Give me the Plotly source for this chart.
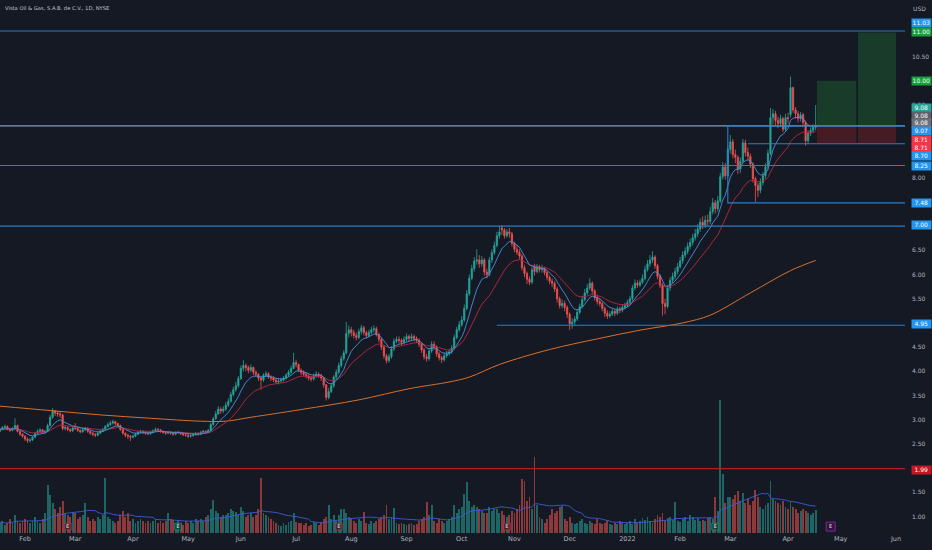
import pandas as pd
import plotly.graph_objects as go

# ---------------- data ----------------
first_day = "2021-01-18"

opens = [
2.76,2.80,2.84,2.86,2.80,2.78,2.82,2.88,2.76,2.70,
2.66,2.60,2.57,2.58,2.64,2.72,2.76,2.79,2.74,2.76,
2.88,3.05,3.18,3.14,3.12,3.10,2.82,2.84,2.80,2.77,
2.83,2.82,2.78,2.75,2.79,2.82,2.76,2.72,2.70,2.68,
2.72,2.76,2.80,2.86,2.90,2.93,2.96,2.92,2.88,2.80,
2.72,2.68,2.66,2.64,2.66,2.70,2.74,2.76,2.74,2.72,
2.71,2.74,2.77,2.80,2.79,2.76,2.74,2.72,2.74,2.72,
2.70,2.73,2.74,2.71,2.69,2.68,2.66,2.67,2.69,2.72,
2.70,2.74,2.76,2.74,2.78,2.90,3.02,3.12,3.22,3.18,
3.22,3.30,3.38,3.52,3.62,3.70,3.85,4.06,4.12,4.08,
4.02,4.08,3.98,3.94,3.86,3.82,3.92,3.95,3.88,3.86,
3.82,3.78,3.80,3.82,3.86,3.92,3.98,4.06,4.18,4.14,
4.02,3.98,3.94,3.90,3.86,3.84,3.90,3.94,3.92,3.86,
3.72,3.46,3.58,3.70,3.88,3.98,4.12,4.26,4.38,4.78,
4.86,4.80,4.74,4.70,4.82,4.90,4.80,4.74,4.80,4.86,
4.88,4.76,4.66,4.50,4.32,4.22,4.30,4.46,4.62,4.66,
4.64,4.60,4.66,4.72,4.68,4.72,4.68,4.64,4.56,4.44,
4.30,4.26,4.42,4.56,4.50,4.36,4.28,4.24,4.32,4.36,
4.40,4.48,4.70,4.86,4.96,5.06,5.30,5.60,5.92,6.12,
6.28,6.30,6.22,6.30,6.05,6.00,6.30,6.45,6.60,6.80,
6.96,6.92,6.80,6.88,6.84,6.64,6.52,6.46,6.38,6.14,
6.02,5.90,5.84,6.16,6.06,6.14,6.10,6.12,6.04,5.94,
5.86,5.82,5.70,5.50,5.36,5.40,5.32,5.18,4.98,5.02,
5.08,5.22,5.34,5.48,5.62,5.72,5.82,5.66,5.52,5.44,
5.40,5.30,5.20,5.14,5.18,5.24,5.20,5.28,5.26,5.32,
5.36,5.42,5.50,5.72,5.82,5.78,5.84,5.92,6.10,6.22,
6.30,6.36,6.18,5.96,5.78,5.40,5.34,5.72,5.88,5.96,
6.06,6.16,6.28,6.40,6.48,6.58,6.66,6.76,6.84,6.94,
7.08,7.02,7.12,7.10,7.30,7.48,7.36,7.52,8.02,8.22,
8.04,8.58,8.74,8.48,8.42,8.18,8.34,8.72,8.52,8.44,
8.28,7.98,7.84,7.74,7.90,8.04,8.22,8.50,9.24,9.32,
9.18,9.12,9.22,9.00,9.24,9.30,9.86,9.40,9.32,9.22,
9.30,9.14,8.76,8.92,8.98,9.04]

highs = [
2.83,2.87,2.90,2.88,2.83,2.85,3.03,2.90,2.78,2.72,
2.68,2.63,2.62,2.66,2.74,2.80,2.83,2.81,2.79,2.92,
3.10,3.24,3.20,3.18,3.16,3.12,2.88,2.86,2.82,2.86,
2.93,2.84,2.80,2.82,2.85,2.84,2.78,2.75,2.72,2.75,
2.79,2.83,2.89,2.94,2.98,3.00,2.98,2.94,2.90,2.82,
2.74,2.71,2.68,2.69,2.73,2.77,2.79,2.78,2.76,2.75,
2.77,2.80,2.84,2.83,2.81,2.78,2.76,2.77,2.76,2.74,
2.76,2.77,2.75,2.73,2.71,2.70,2.70,2.72,2.75,2.74,
2.77,2.79,2.78,2.81,2.94,3.06,3.18,3.28,3.26,3.28,
3.36,3.44,3.58,3.68,3.78,3.90,4.12,4.23,4.16,4.12,
4.14,4.10,4.02,3.96,3.90,3.96,4.00,3.98,3.92,3.90,
3.86,3.84,3.87,3.90,3.96,4.03,4.12,4.38,4.24,4.16,
4.06,4.02,3.98,3.94,3.90,3.95,4.00,3.98,3.95,3.88,
3.74,3.66,3.76,3.92,4.04,4.18,4.32,4.44,5.02,4.95,
4.92,4.86,4.80,4.88,4.96,4.94,4.84,4.86,4.92,4.95,
4.92,4.80,4.70,4.54,4.36,4.36,4.52,4.68,4.72,4.72,
4.68,4.72,4.78,4.76,4.78,4.76,4.72,4.68,4.60,4.48,
4.36,4.48,4.62,4.62,4.54,4.40,4.32,4.38,4.42,4.46,
4.54,4.76,4.92,5.04,5.14,5.38,5.68,6.00,6.20,6.36,
6.52,6.40,6.38,6.34,6.12,6.36,6.52,6.68,6.88,7.00,
7.02,6.96,6.94,6.96,6.88,6.68,6.60,6.52,6.42,6.20,
6.06,5.96,6.16,6.22,6.22,6.20,6.20,6.16,6.08,5.98,
5.92,5.86,5.74,5.54,5.48,5.46,5.36,5.22,5.10,5.14,
5.28,5.40,5.56,5.70,5.80,5.92,5.86,5.70,5.58,5.50,
5.44,5.34,5.26,5.24,5.30,5.28,5.34,5.34,5.38,5.42,
5.48,5.56,5.78,5.90,5.88,5.90,6.00,6.18,6.30,6.40,
6.48,6.40,6.22,6.00,5.82,5.50,5.78,5.94,6.04,6.14,
6.24,6.36,6.48,6.56,6.66,6.74,6.84,6.94,7.04,7.16,
7.20,7.22,7.24,7.40,7.58,7.54,7.62,8.10,8.32,8.30,
8.66,8.88,8.80,8.58,8.46,8.42,8.80,8.78,8.62,8.50,
8.32,8.02,7.90,7.98,8.12,8.30,8.58,9.44,9.42,9.38,
9.26,9.30,9.26,9.32,9.34,10.09,9.88,9.46,9.38,9.36,
9.34,9.18,8.98,9.04,9.10,9.50]

lows = [
2.74,2.78,2.81,2.78,2.75,2.76,2.80,2.74,2.67,2.63,
2.56,2.52,2.53,2.56,2.62,2.70,2.73,2.71,2.71,2.75,
2.86,3.02,3.08,3.06,3.04,2.78,2.78,2.76,2.74,2.75,
2.79,2.75,2.72,2.73,2.77,2.73,2.69,2.66,2.64,2.66,
2.70,2.74,2.78,2.84,2.87,2.90,2.88,2.85,2.77,2.69,
2.64,2.60,2.56,2.61,2.64,2.68,2.72,2.71,2.69,2.68,
2.69,2.72,2.75,2.76,2.73,2.71,2.69,2.70,2.69,2.67,
2.68,2.71,2.68,2.66,2.65,2.62,2.63,2.65,2.67,2.67,
2.68,2.72,2.71,2.72,2.76,2.88,3.00,3.10,3.12,3.14,
3.18,3.26,3.35,3.48,3.58,3.66,3.82,4.00,4.00,3.96,
3.98,3.92,3.88,3.80,3.62,3.78,3.88,3.84,3.80,3.78,
3.74,3.73,3.76,3.79,3.83,3.89,3.95,4.04,4.08,3.98,
3.92,3.90,3.85,3.81,3.79,3.81,3.87,3.86,3.80,3.66,
3.40,3.42,3.55,3.66,3.84,3.94,4.08,4.22,4.35,4.70,
4.72,4.68,4.64,4.66,4.76,4.74,4.68,4.70,4.76,4.80,
4.72,4.60,4.44,4.26,4.16,4.18,4.26,4.42,4.58,4.58,
4.54,4.56,4.62,4.62,4.64,4.62,4.58,4.50,4.38,4.24,
4.20,4.22,4.38,4.44,4.30,4.22,4.17,4.20,4.28,4.32,
4.36,4.45,4.66,4.82,4.92,5.02,5.26,5.56,5.88,6.06,
6.20,6.14,6.16,5.98,5.92,5.96,6.24,6.40,6.56,6.74,
6.82,6.74,6.76,6.76,6.58,6.46,6.40,6.32,6.08,5.94,
5.80,5.78,5.80,5.98,6.02,6.04,6.04,5.98,5.88,5.80,
5.74,5.64,5.42,5.30,5.30,5.24,5.10,4.85,4.88,4.94,
5.04,5.18,5.30,5.44,5.58,5.68,5.60,5.46,5.38,5.34,
5.24,5.12,5.08,5.10,5.14,5.14,5.16,5.20,5.22,5.28,
5.32,5.38,5.46,5.68,5.72,5.74,5.80,5.88,6.06,6.16,
6.24,6.12,5.90,5.72,5.15,5.18,5.30,5.66,5.82,5.90,
6.00,6.12,6.22,6.34,6.42,6.52,6.60,6.70,6.78,6.88,
6.94,6.96,7.00,7.04,7.24,7.26,7.30,7.48,7.96,7.96,
8.00,8.50,8.40,8.30,8.08,8.10,8.30,8.44,8.36,8.20,
7.90,7.50,7.60,7.68,7.84,7.98,8.16,8.46,9.10,9.08,
9.02,9.06,8.94,8.96,9.12,9.24,9.34,9.22,9.14,9.16,
9.08,8.66,8.70,8.86,8.92,8.98]

closes = [
2.80,2.84,2.86,2.80,2.78,2.82,2.88,2.76,2.70,2.66,
2.60,2.57,2.58,2.64,2.72,2.76,2.79,2.74,2.76,2.88,
3.05,3.18,3.14,3.12,3.10,2.82,2.84,2.80,2.77,2.83,
2.82,2.78,2.75,2.79,2.82,2.76,2.72,2.70,2.68,2.72,
2.76,2.80,2.86,2.90,2.93,2.96,2.92,2.88,2.80,2.72,
2.68,2.66,2.64,2.66,2.70,2.74,2.76,2.74,2.72,2.71,
2.74,2.77,2.80,2.79,2.76,2.74,2.72,2.74,2.72,2.70,
2.73,2.74,2.71,2.69,2.68,2.66,2.67,2.69,2.72,2.70,
2.74,2.76,2.74,2.78,2.90,3.02,3.12,3.22,3.18,3.22,
3.30,3.38,3.52,3.62,3.70,3.85,4.06,4.12,4.08,4.02,
4.08,3.98,3.94,3.86,3.82,3.92,3.95,3.88,3.86,3.82,
3.78,3.80,3.82,3.86,3.92,3.98,4.06,4.18,4.14,4.02,
3.98,3.94,3.90,3.86,3.84,3.90,3.94,3.92,3.86,3.72,
3.46,3.58,3.70,3.88,3.98,4.12,4.26,4.38,4.78,4.86,
4.80,4.74,4.70,4.82,4.90,4.80,4.74,4.80,4.86,4.88,
4.76,4.66,4.50,4.32,4.22,4.30,4.46,4.62,4.66,4.64,
4.60,4.66,4.72,4.68,4.72,4.68,4.64,4.56,4.44,4.30,
4.26,4.42,4.56,4.50,4.36,4.28,4.24,4.32,4.36,4.40,
4.48,4.70,4.86,4.96,5.06,5.30,5.60,5.92,6.12,6.28,
6.30,6.22,6.30,6.05,6.00,6.30,6.45,6.60,6.80,6.88,
6.92,6.80,6.88,6.84,6.64,6.52,6.46,6.38,6.14,6.02,
5.90,5.84,6.10,6.06,6.14,6.10,6.12,6.04,5.94,5.86,
5.82,5.70,5.50,5.36,5.40,5.32,5.18,4.98,5.02,5.08,
5.22,5.34,5.48,5.62,5.72,5.82,5.66,5.52,5.44,5.40,
5.30,5.20,5.14,5.18,5.24,5.20,5.28,5.26,5.32,5.36,
5.42,5.50,5.72,5.82,5.78,5.84,5.92,6.10,6.22,6.30,
6.36,6.18,5.96,5.78,5.40,5.34,5.72,5.88,5.96,6.06,
6.16,6.28,6.40,6.48,6.58,6.66,6.76,6.84,6.94,7.08,
7.02,7.12,7.10,7.30,7.48,7.36,7.52,8.02,8.22,8.04,
8.58,8.74,8.48,8.42,8.18,8.34,8.72,8.52,8.44,8.28,
7.98,7.84,7.74,7.90,8.04,8.22,8.50,9.24,9.32,9.18,
9.12,9.22,9.00,9.24,9.22,9.86,9.40,9.32,9.22,9.30,
9.14,8.76,8.92,8.98,9.04,9.08]

volumes = [
0.5,0.6,0.4,0.5,0.7,0.5,0.9,0.6,0.5,0.6,
0.7,0.6,0.5,0.6,0.8,0.6,0.5,0.7,1.0,2.4,
1.9,1.5,1.2,1.0,1.3,1.6,1.0,0.9,0.8,1.05,
1.0,0.7,0.8,0.9,1.5,0.8,0.6,0.7,0.6,0.8,
0.7,0.9,2.75,0.8,0.7,0.6,0.5,0.6,0.9,1.1,
0.8,1.0,0.6,0.7,0.5,0.6,0.7,0.6,0.5,0.6,
0.5,0.6,0.7,0.5,0.6,0.5,0.6,1.0,0.7,0.65,
0.5,0.6,0.5,0.4,0.6,0.5,0.6,0.5,0.7,0.6,
0.7,0.6,0.8,0.9,1.2,1.65,1.1,1.0,0.8,0.9,
0.9,1.0,1.2,1.1,1.05,0.9,1.3,1.1,0.8,0.9,
1.0,0.8,0.9,1.2,2.75,1.0,0.9,0.8,0.7,0.6,
0.5,0.4,0.35,0.5,0.4,0.55,0.6,1.0,0.55,0.5,
0.5,0.4,0.5,0.35,0.4,0.55,0.5,0.4,0.55,0.7,
0.8,1.4,0.7,0.9,0.6,0.9,1.2,1.2,1.0,0.8,
0.7,0.6,0.5,0.7,0.6,1.05,0.5,0.45,0.6,0.5,
0.6,0.7,0.8,0.9,1.4,0.7,0.8,1.25,0.5,0.45,
0.5,0.45,0.4,0.45,0.5,0.4,0.45,0.6,0.7,0.8,
1.55,0.9,1.4,0.6,0.5,0.7,0.6,0.5,0.6,0.7,
0.8,1.4,1.0,1.2,1.3,1.95,2.55,1.6,1.3,1.4,
1.3,1.2,1.1,1.0,1.0,1.3,1.1,1.2,1.2,1.0,
1.1,0.9,0.8,0.9,1.1,1.0,1.2,1.4,2.7,2.6,
1.6,1.8,1.2,3.8,1.4,0.8,0.7,0.5,0.7,0.9,
1.2,1.0,1.1,1.3,1.35,0.7,0.6,0.8,0.5,0.45,
0.5,0.6,0.7,0.5,0.45,0.6,0.5,0.45,0.7,0.5,
0.45,0.5,0.6,0.45,0.4,0.5,0.45,0.6,0.5,0.45,
0.5,0.6,0.45,0.7,0.5,0.6,0.75,0.65,0.8,0.6,
0.5,0.7,0.9,0.8,1.0,0.6,0.75,0.8,0.65,1.55,
0.6,0.55,0.7,0.8,0.6,0.9,0.8,0.65,0.75,0.6,
0.65,0.6,0.75,0.8,0.7,1.8,1.1,6.65,2.95,1.5,
1.8,1.8,1.7,1.9,2.1,1.6,2.0,1.5,1.7,1.4,
1.6,2.15,1.8,1.3,1.2,1.4,1.5,2.6,1.7,1.6,
1.5,1.4,1.6,1.3,1.2,1.55,1.3,1.2,1.0,1.1,
1.2,1.1,1.0,0.9,1.0,1.15]

# 200-day moving average (bar index, value)
ma200_idx = [0, 20, 40, 60, 80, 90, 100, 120, 143, 163, 179, 187, 199, 219, 238, 255, 272, 283, 299, 315, 325]
ma200_val = [3.28, 3.19, 3.10, 3.03, 2.97, 2.97, 3.05, 3.21, 3.41, 3.64, 3.78, 3.88, 4.14, 4.45, 4.67, 4.85, 5.00, 5.16, 5.62, 6.08, 6.29]

month_starts = ["2021-02-01","2021-03-01","2021-04-01","2021-05-01","2021-06-01","2021-07-01",
                "2021-08-01","2021-09-01","2021-10-01","2021-11-01","2021-12-01","2022-01-01",
                "2022-02-01","2022-03-01","2022-04-01","2022-05-01","2022-06-01"]
month_labels = ["Feb","Mar","Apr","May","Jun","Jul","Aug","Sep","Oct","Nov","Dec","2022",
                "Feb","Mar","Apr","May","Jun"]

# price-scale ticks that are not hidden behind a coloured price tag
price_ticks = [1.0,1.5,2.5,3.0,3.5,4.0,4.5,5.5,6.0,6.5,8.0,9.5,10.5]

# horizontal levels: price, first bar index (None = full width), colour
level_prices = [11.03, 9.07, 8.70, 8.25, 7.00, 4.95, 1.99]
level_start = [None, None, 298, None, None, 198, None]
level_colors = ["#2a7fc9", "#7f9cc0", "#2a7fc9", "#2a7fc9", "#2a7fc9", "#2a7fc9", "#b3202a"]

box_start_bar = 290
box_low, box_high = 7.48, 9.07

entry_price = 9.08
stop_price = 8.71
target1, target2 = 10.00, 11.00
pos1_bars = (325.5, 341.2)
pos2_bars = (341.9, 357.0)

earn_bars = [27, 71, 135, 202, 285, 331]
earn_kind = ["miss", "beat", "miss", "miss", "beat", "next"]

axis_labels = [  # text, price, background, pixel shift
    ("11.03", 11.03, "#2196f3", 8), ("11.00", 11.00, "#14a03a", 0),
    ("10.00", 10.00, "#14a03a", 0), ("9.08", 9.08, "#26a69a", 17),
    ("9.08", 9.08, "#5d606b", 9.5), ("9.08", 9.08, "#6e717c", 2),
    ("9.07", 9.07, "#2196f3", -5.5), ("8.71", 8.71, "#f23645", 3),
    ("8.71", 8.71, "#f23645", -4.5), ("8.70", 8.70, "#2196f3", -12.5),
    ("8.25", 8.25, "#2196f3", -0.5), ("7.48", 7.48, "#2196f3", 0),
    ("7.00", 7.00, "#2196f3", 1), ("4.95", 4.95, "#2196f3", 1),
    ("1.99", 1.99, "#c8141e", -1)]

# ---------------- build ----------------
n = len(closes)
idx = list(range(n))
dates = pd.bdate_range(first_day, periods=400)
tickvals = [int((dates >= pd.Timestamp(m)).argmax()) for m in month_starts]

XMIN, XMAX = 0.04, 360.6
YMIN, YMAX = 0.66, 11.67
VMAX = 26.65

BG = "#151924"
UP, DN = "#26a69a", "#ef5350"

cs = pd.Series(closes)
ema_fast = cs.ewm(span=9, adjust=False).mean()
ema_slow = cs.ewm(span=21, adjust=False).mean()
vol_ma = pd.Series(volumes).rolling(20, min_periods=1).mean()
vol_colors = ["rgba(38,166,154,0.55)" if c >= o else "rgba(239,83,80,0.55)" for o, c in zip(opens, closes)]

fig = go.Figure()

fig.add_trace(go.Bar(x=idx, y=volumes, marker_color=vol_colors, marker_line_width=0,
                     yaxis="y2", width=0.75, hoverinfo="skip"))
fig.add_trace(go.Scatter(x=idx, y=vol_ma, mode="lines", line=dict(color="#3b5bd6", width=0.9),
                         yaxis="y2", hoverinfo="skip"))

ek_col = {"miss": ("#4a1c24", "#c0394a"), "beat": ("#143a33", "#1f9c83"), "next": ("#3a1446", "#b030d0")}
fig.add_trace(go.Scatter(
    x=earn_bars, y=[0.32] * len(earn_bars), yaxis="y2", mode="markers+text",
    text=["E"] * len(earn_bars), textposition="middle center",
    textfont=dict(size=5, color="#e0e0e0", family="DejaVu Sans"),
    marker=dict(symbol="square", size=[7, 7, 7, 7, 7, 9],
                color=[ek_col[k][0] for k in earn_kind],
                line=dict(color=[ek_col[k][1] for k in earn_kind], width=1)),
    hoverinfo="skip"))

fig.add_trace(go.Scatter(x=ma200_idx, y=ma200_val, mode="lines", line=dict(color="#d9702c", width=1, shape="spline"),
                         hoverinfo="skip"))
fig.add_trace(go.Scatter(x=idx, y=ema_slow, mode="lines", line=dict(color="#b8283f", width=0.9), hoverinfo="skip"))
fig.add_trace(go.Scatter(x=idx, y=ema_fast, mode="lines", line=dict(color="#4f8fda", width=0.9), hoverinfo="skip"))

fig.add_trace(go.Candlestick(
    x=idx, open=opens, high=highs, low=lows, close=closes,
    increasing=dict(line=dict(color=UP, width=0.8), fillcolor=UP),
    decreasing=dict(line=dict(color=DN, width=0.8), fillcolor=DN),
    whiskerwidth=0, hoverinfo="skip"))

shapes = []
# long-position boxes
for (a, b), tgt in ((pos1_bars, target1), (pos2_bars, target2)):
    shapes.append(dict(type="rect", xref="x", yref="y", x0=a, x1=b, y0=entry_price, y1=tgt,
                       fillcolor="rgba(32,110,52,0.42)", line_width=0, layer="below"))
    shapes.append(dict(type="rect", xref="x", yref="y", x0=a, x1=b, y0=stop_price, y1=entry_price,
                       fillcolor="rgba(140,30,42,0.42)", line_width=0, layer="below"))
# levels
for p, s, c in zip(level_prices, level_start, level_colors):
    shapes.append(dict(type="line", xref="x", yref="y", x0=XMIN if s is None else s, x1=XMAX,
                       y0=p, y1=p, line=dict(color=c, width=1.1 if c != "#b3202a" else 1.4)))
# range box
shapes.append(dict(type="rect", xref="x", yref="y", x0=box_start_bar, x1=XMAX + 5, y0=box_low, y1=box_high,
                   line=dict(color="#2a7fc9", width=1.1), fillcolor="rgba(0,0,0,0)"))

annotations = []
for txt, p, bg, sh in axis_labels:
    annotations.append(dict(xref="paper", yref="y", x=1, y=p, xanchor="left", yanchor="middle",
                            xshift=6, yshift=sh, text=txt, showarrow=False, bgcolor=bg,
                            font=dict(size=6, color="#ffffff", family="DejaVu Sans"),
                            borderpad=0.3, width=18, align="center"))
annotations.append(dict(xref="paper", yref="paper", x=0.0035, y=1, yshift=-8, xanchor="left", yanchor="middle",
                        text="Vista Oil &amp; Gas, S.A.B. de C.V., 1D, NYSE", showarrow=False,
                        font=dict(size=5.2, color="#c3c6ce", family="DejaVu Sans")))
annotations.append(dict(xref="paper", yref="paper", x=1, y=1, xshift=14, yshift=-8, xanchor="center",
                        yanchor="middle", text="USD", showarrow=False,
                        font=dict(size=6, color="#b2b5be", family="DejaVu Sans")))

fig.update_layout(
    width=932, height=550, margin=dict(l=0, r=27, t=0, b=17, autoexpand=False),
    paper_bgcolor=BG, plot_bgcolor=BG, showlegend=False,
    shapes=shapes, annotations=annotations, bargap=0,
    xaxis=dict(range=[XMIN, XMAX], tickvals=tickvals, ticktext=month_labels, automargin=False,
               showgrid=False, zeroline=False, showline=False, ticks="",
               tickfont=dict(size=6.5, color="#b2b5be", family="DejaVu Sans"),
               rangeslider=dict(visible=False), fixedrange=True),
    yaxis=dict(range=[YMIN, YMAX], side="right", tickvals=price_ticks, automargin=False,
               ticktext=[f"{v:.2f}" for v in price_ticks], showgrid=False, zeroline=False,
               showline=False, ticks="", ticklabelstandoff=6,
               tickfont=dict(size=6, color="#b2b5be", family="DejaVu Sans")),
    yaxis2=dict(range=[0, VMAX], overlaying="y", visible=False, showgrid=False, automargin=False),
)

fig.write_html("out.html", config={"displayModeBar": False},
               post_script="document.body.style.margin='0px';document.body.style.overflow='hidden';"
                           "document.body.style.background='" + BG + "';")
